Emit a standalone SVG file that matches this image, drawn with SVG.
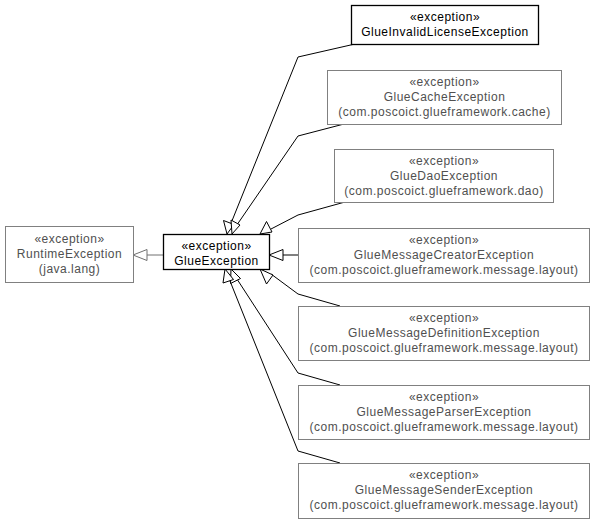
<svg xmlns="http://www.w3.org/2000/svg" width="595" height="523" viewBox="0 0 595 523">
<defs>
<style>
text{font-family:"Liberation Sans",Arial,sans-serif;font-size:12px;text-anchor:middle;letter-spacing:0.5px}
.g rect{fill:#fff;stroke:#808080;stroke-width:1}
.g text{fill:#505050}
.k rect{fill:#fff;stroke:#000;stroke-width:1.3}
.k text{fill:#000}
.c{fill:none;stroke:#000;stroke-width:1}
.cg{fill:none;stroke:#707070;stroke-width:1}
.ah{fill:#fff;stroke:#000;stroke-width:1}
.ahg{fill:#fff;stroke:#707070;stroke-width:1}
</style>
</defs>
<rect width="595" height="523" fill="#fff"/>
<g id="connectors">
<line class="cg" x1="163" y1="255" x2="147" y2="255"/>
<polygon class="ahg" points="133,255 147,249.5 147,260.5"/>
<polyline class="c" points="355,44 298,57 229.5,227"/>
<polyline class="c" points="344,124 298,136 235.5,227"/>
<polyline class="c" points="345,202 298,215 271,229"/>
<line class="c" x1="298" y1="255" x2="283" y2="255"/>
<polyline class="c" points="340,306 298,294 271,274"/>
<polyline class="c" points="340,385 298,373 235,276"/>
<polyline class="c" points="340,463 298,451 228,276"/>
<polygon class="ah" points="227,234 223.5,220.5 234,224.5"/>
<polygon class="ah" points="232,234 231,220 240,225"/>
<polygon class="ah" points="260,234 266.5,221.5 272,232"/>
<polygon class="ah" points="269,255 283,249.5 283,260.5"/>
<polygon class="ah" points="260,269 273,275 266.5,284"/>
<polygon class="ah" points="231,269 240.5,278.5 230.5,283.5"/>
<polygon class="ah" points="225,269 233.5,279.5 223,283"/>
</g>
<g id="RuntimeException" class="g">
<rect x="5.5" y="226.5" width="128" height="56"/>
<text x="69.5" y="243">«exception»</text>
<text x="69.5" y="258">RuntimeException</text>
<text x="69.5" y="273">(java.lang)</text>
</g>
<g id="GlueException" class="k">
<rect x="163.5" y="234.5" width="106" height="35"/>
<text x="216.5" y="250">«exception»</text>
<text x="216.5" y="265">GlueException</text>
</g>
<g id="GlueInvalidLicenseException" class="k">
<rect x="351.5" y="5.5" width="187" height="39"/>
<text x="445" y="21">«exception»</text>
<text x="445" y="36">GlueInvalidLicenseException</text>
</g>
<g id="GlueCacheException" class="g">
<rect x="327.5" y="70.5" width="234" height="54"/>
<text x="444.5" y="86">«exception»</text>
<text x="444.5" y="101">GlueCacheException</text>
<text x="444.5" y="116">(com.poscoict.glueframework.cache)</text>
</g>
<g id="GlueDaoException" class="g">
<rect x="334.5" y="149.5" width="219" height="53"/>
<text x="444" y="165">«exception»</text>
<text x="444" y="180">GlueDaoException</text>
<text x="444" y="195">(com.poscoict.glueframework.dao)</text>
</g>
<g id="GlueMessageCreatorException" class="g">
<rect x="298.5" y="228.5" width="291" height="54"/>
<text x="444" y="244">«exception»</text>
<text x="444" y="259">GlueMessageCreatorException</text>
<text x="444" y="274">(com.poscoict.glueframework.message.layout)</text>
</g>
<g id="GlueMessageDefinitionException" class="g">
<rect x="298.5" y="306.5" width="291" height="54"/>
<text x="444" y="322">«exception»</text>
<text x="444" y="337">GlueMessageDefinitionException</text>
<text x="444" y="352">(com.poscoict.glueframework.message.layout)</text>
</g>
<g id="GlueMessageParserException" class="g">
<rect x="298.5" y="385.5" width="291" height="54"/>
<text x="444" y="401">«exception»</text>
<text x="444" y="416">GlueMessageParserException</text>
<text x="444" y="431">(com.poscoict.glueframework.message.layout)</text>
</g>
<g id="GlueMessageSenderException" class="g">
<rect x="298.5" y="463.5" width="291" height="55"/>
<text x="444" y="479">«exception»</text>
<text x="444" y="494">GlueMessageSenderException</text>
<text x="444" y="509">(com.poscoict.glueframework.message.layout)</text>
</g>
</svg>
